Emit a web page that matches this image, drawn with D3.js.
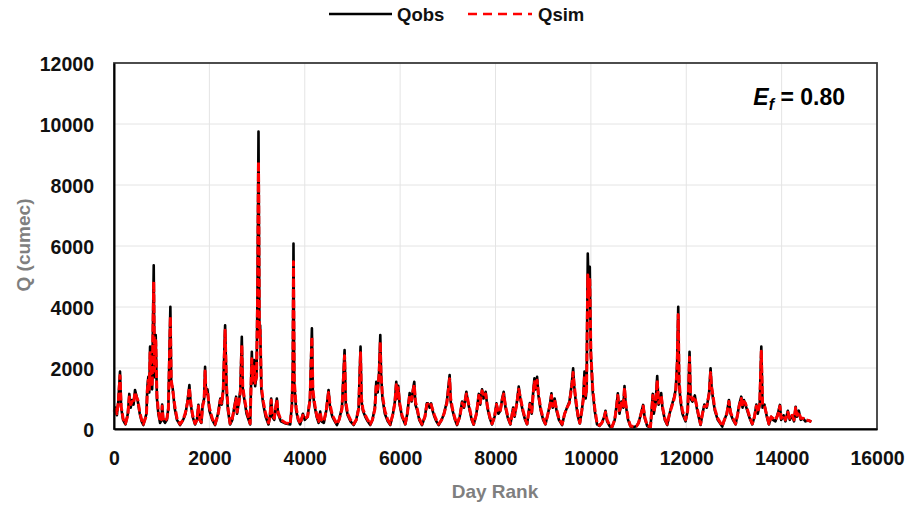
<!DOCTYPE html>
<html>
<head>
<meta charset="utf-8">
<script src="https://cdn.jsdelivr.net/npm/d3@7"></script>
<style>
  html, body { margin: 0; padding: 0; background: #ffffff; }
  svg { display: block; }
  text { font-family: "Liberation Sans", Arial, sans-serif; font-weight: bold; }
</style>
</head>
<body>
<svg id="chart" width="906" height="506"></svg>
<script>
// ---- data ----
const days = [0,30,60,90,126,150,190,240,290,321,350,380,410,441,470,500,540,580,616,680,700,720,740,756,780,800,833,850,875,900,930,966,1000,1010,1030,1070,1110,1140,1182,1200,1230,1270,1320,1385,1450,1500,1540,1581,1610,1650,1700,1740,1770,1800,1830,1860,1890,1910,1930,1960,2000,2060,2120,2180,2230,2260,2290,2330,2360,2390,2435,2480,2520,2561,2580,2620,2650,2680,2700,2730,2780,2855,2880,2890,2910,2939,2960,2990,3010,3030,3050,3065,3090,3130,3180,3240,3270,3296,3320,3360,3390,3415,3440,3500,3600,3695,3730,3750,3764,3780,3820,3860,3904,3960,4000,4060,4110,4150,4170,4200,4250,4290,4324,4350,4400,4450,4499,4530,4580,4630,4675,4720,4780,4835,4860,4900,4960,5024,5080,5130,5170,5190,5220,5270,5320,5374,5420,5470,5500,5530,5560,5584,5600,5630,5680,5740,5794,5850,5890,5919,5940,5960,5990,6040,6108,6150,6200,6240,6270,6297,6320,6360,6400,6458,6520,6560,6584,6620,6650,6680,6720,6760,6808,6870,6920,6980,7038,7060,7100,7150,7193,7250,7300,7340,7389,7420,7460,7500,7542,7600,7650,7680,7718,7750,7794,7830,7880,7928,7980,8020,8060,8100,8140,8172,8210,8260,8312,8370,8400,8450,8487,8520,8570,8620,8662,8720,8760,8790,8816,8840,8872,8900,8950,9000,9047,9100,9140,9173,9200,9240,9280,9330,9397,9450,9500,9550,9600,9628,9650,9690,9730,9768,9810,9840,9866,9890,9910,9935,9955,9977,10000,10040,10080,10130,10180,10230,10280,10306,10340,10400,10446,10500,10540,10565,10600,10640,10680,10705,10730,10780,10831,10900,10960,11000,11050,11097,11130,11180,11250,11299,11320,11360,11391,11420,11450,11475,11500,11550,11601,11650,11700,11740,11780,11810,11832,11850,11880,11920,11985,12030,12050,12069,12090,12130,12180,12220,12260,12300,12340,12380,12430,12480,12510,12530,12560,12600,12660,12755,12800,12850,12895,12930,12980,13035,13080,13110,13154,13180,13210,13240,13280,13330,13385,13430,13470,13500,13540,13574,13600,13640,13690,13734,13780,13820,13870,13920,13965,13990,14040,14080,14130,14170,14220,14260,14294,14320,14360,14400,14450,14500,14560,14624];
const qobs = [600,700,450,900,1880,700,300,150,500,1150,700,950,800,1280,1100,900,500,250,130,500,1400,1710,1200,2700,1500,1300,5370,1700,3080,1000,500,200,300,800,300,200,300,700,4010,1500,1350,700,300,130,300,500,900,1440,800,400,150,300,790,300,200,800,1000,2040,1150,1300,600,300,130,500,1000,800,1300,3400,1300,600,150,300,700,1060,500,900,1300,3020,1350,1000,500,150,1900,2530,1500,2260,1400,1800,4600,9750,3200,3400,1300,800,400,150,400,1000,400,300,700,1000,500,250,180,150,800,2000,6080,1500,600,300,150,500,300,400,1000,3300,1200,800,400,200,570,250,200,600,1280,700,400,250,130,300,700,2590,800,450,250,130,300,700,2700,900,600,400,250,130,300,700,1550,1200,1900,3080,1820,1000,500,250,130,500,900,1550,1000,1420,800,400,150,500,1180,900,1300,1550,800,600,300,130,400,840,840,700,840,600,400,250,130,300,500,900,1770,900,600,300,130,400,900,700,1220,900,600,300,140,500,1150,800,1300,1000,1220,700,350,150,400,840,500,600,1000,1220,700,350,150,700,400,900,1390,1000,600,300,150,850,500,1200,1660,1300,1710,1100,600,300,150,500,800,1170,700,1000,600,300,130,500,700,900,1500,1990,1400,800,400,180,600,1000,1880,1000,1300,5750,4500,5320,2400,1200,600,150,100,200,400,600,250,80,60,300,800,1170,500,900,700,1410,800,300,80,60,100,200,500,790,350,100,50,1150,500,900,1740,800,1000,1180,700,300,130,500,800,1000,1300,2200,4010,1500,900,500,250,600,1500,2530,1000,900,1100,700,400,130,500,800,700,1200,1990,1400,1000,600,300,80,300,500,950,500,300,150,500,800,1060,700,950,800,600,350,150,400,800,500,800,2700,700,800,400,150,400,300,250,500,790,300,450,250,600,300,450,250,730,400,600,300,350,250,280,240];
const qsim = [560,650,500,850,1750,750,350,180,450,1050,800,900,850,1200,1050,950,550,300,160,450,1300,1600,1300,2500,1600,1400,4830,1900,2900,1100,600,250,350,750,350,250,350,650,3680,1600,1300,800,350,160,300,550,850,1350,850,450,180,300,750,300,220,750,950,1900,1200,1250,700,350,160,450,950,850,1250,3240,1400,700,180,350,650,1000,550,850,1200,2750,1400,1050,600,180,1800,2300,1600,2100,1500,1700,4200,8760,3000,3250,1400,900,500,200,400,950,450,350,700,950,550,300,200,170,750,1900,5480,1600,700,350,180,450,350,400,950,3020,1300,900,450,250,550,300,250,600,1200,800,450,300,160,300,650,2400,900,500,300,160,300,650,2500,1000,650,450,300,160,300,650,1450,1300,1800,2850,1750,1100,600,300,160,500,850,1450,1050,1350,850,450,170,500,1100,950,1250,1450,900,650,350,160,400,800,820,750,800,650,450,300,160,300,500,850,1650,1000,650,350,160,400,850,750,1150,950,650,350,160,500,1100,850,1250,1050,1150,750,400,170,400,800,550,600,950,1150,750,400,170,650,450,850,1300,1050,650,350,170,800,550,1150,1550,1350,1600,1150,650,350,170,500,750,1100,750,950,650,350,160,500,700,850,1400,1850,1450,900,450,200,600,950,1750,1100,1300,5050,4300,4900,2500,1300,700,180,120,200,380,550,300,100,80,300,750,1100,550,850,750,1350,850,350,100,80,100,200,480,750,400,120,70,1100,550,850,1600,850,950,1100,750,350,160,500,750,950,1250,2100,3750,1600,1000,600,300,600,1400,2350,1100,950,1050,750,450,160,500,750,750,1150,1850,1400,1100,650,350,100,300,500,900,550,350,170,500,750,1000,750,900,850,650,400,170,400,750,550,800,2550,800,750,450,170,400,350,300,450,750,350,450,300,550,350,450,300,700,450,550,350,350,300,280,240];
const xTicks = [0,2000,4000,6000,8000,10000,12000,14000,16000];
const yTicks = [0,2000,4000,6000,8000,10000,12000];
const seriesNames = ["Qobs","Qsim"];
const effText = ["E","f"," = 0.80"];

// ---- layout ----
const svg = d3.select("#chart");
const L = 114, R = 877, T = 63, B = 429;
const x = d3.scaleLinear().domain([0,16000]).range([L,R]);
const y = d3.scaleLinear().domain([0,12000]).range([B,T]);

svg.append("rect").attr("x",0).attr("y",0).attr("width",906).attr("height",506).attr("fill","#ffffff");

// gridlines
const grid = svg.append("g");
grid.selectAll(".gx").data(xTicks.slice(1,-1)).enter().append("line")
  .attr("x1",d=>x(d)).attr("x2",d=>x(d)).attr("y1",T).attr("y2",B)
  .attr("stroke","#e4e4e4").attr("stroke-width",1);
grid.selectAll(".gy").data(yTicks.slice(1,-1)).enter().append("line")
  .attr("x1",L).attr("x2",R).attr("y1",d=>y(d)).attr("y2",d=>y(d))
  .attr("stroke","#e4e4e4").attr("stroke-width",1);

// series
const pts = days.map((d,i)=>({d, o:qobs[i], s:qsim[i]}));
const lineObs = d3.line().x(p=>x(p.d)).y(p=>y(p.o));
const lineSim = d3.line().x(p=>x(p.d)).y(p=>y(p.s));
svg.append("path").datum(pts).attr("d",lineObs).attr("fill","none")
  .attr("stroke","#000000").attr("stroke-width",2.6).attr("stroke-linejoin","round");
svg.append("path").datum(pts).attr("d",lineSim).attr("fill","none")
  .attr("stroke","#ff0000").attr("stroke-width",3).attr("stroke-dasharray","8,2.5").attr("stroke-linejoin","round");

// frame
svg.append("rect").attr("x",L).attr("y",T).attr("width",R-L).attr("height",B-T)
  .attr("fill","none").attr("stroke","#3a3a3a").attr("stroke-width",1.8);

// axes
const xAxis = d3.axisBottom(x).tickValues(xTicks).tickSize(0).tickPadding(22).tickFormat(d3.format("d"));
const yAxis = d3.axisLeft(y).tickValues(yTicks).tickSize(0).tickPadding(20).tickFormat(d3.format("d"));
const gx = svg.append("g").attr("transform",`translate(0,${B})`).call(xAxis);
const gy = svg.append("g").attr("transform",`translate(${L},0)`).call(yAxis);
[gx,gy].forEach(g=>{
  g.select(".domain").attr("stroke","#000").attr("stroke-width",2);
  g.selectAll("text").attr("font-family",'"Liberation Sans", Arial, sans-serif')
    .attr("font-weight","bold").attr("font-size",19.5).attr("fill","#111");
});
gy.selectAll("text").attr("dy","0.36em");

// axis titles
svg.append("text").attr("x",495).attr("y",498).attr("text-anchor","middle")
  .attr("font-size",19).attr("fill","#7f7f7f").text("Day Rank");
svg.append("text").attr("transform","translate(30,245) rotate(-90)").attr("text-anchor","middle")
  .attr("font-size",19).attr("fill","#7f7f7f").text("Q (cumec)");

// legend
const lg = svg.append("g");
lg.append("line").attr("x1",329).attr("x2",392).attr("y1",14).attr("y2",14)
  .attr("stroke","#000").attr("stroke-width",2.6);
lg.append("text").attr("x",397).attr("y",21).attr("font-size",18.5).attr("fill","#111").text(seriesNames[0]);
lg.append("line").attr("x1",468).attr("x2",532).attr("y1",14).attr("y2",14)
  .attr("stroke","#ff0000").attr("stroke-width",2.6).attr("stroke-dasharray","9,6");
lg.append("text").attr("x",538).attr("y",21).attr("font-size",18.5).attr("fill","#111").text(seriesNames[1]);

// efficiency annotation
const ef = svg.append("text").attr("x",845).attr("y",105).attr("text-anchor","end")
  .attr("font-size",23).attr("fill","#000");
ef.append("tspan").attr("font-style","italic").text(effText[0]);
ef.append("tspan").attr("font-style","italic").attr("font-size",16).attr("dy",5).text(effText[1]);
ef.append("tspan").attr("dy",-5).text(effText[2]);
</script>
</body>
</html>
